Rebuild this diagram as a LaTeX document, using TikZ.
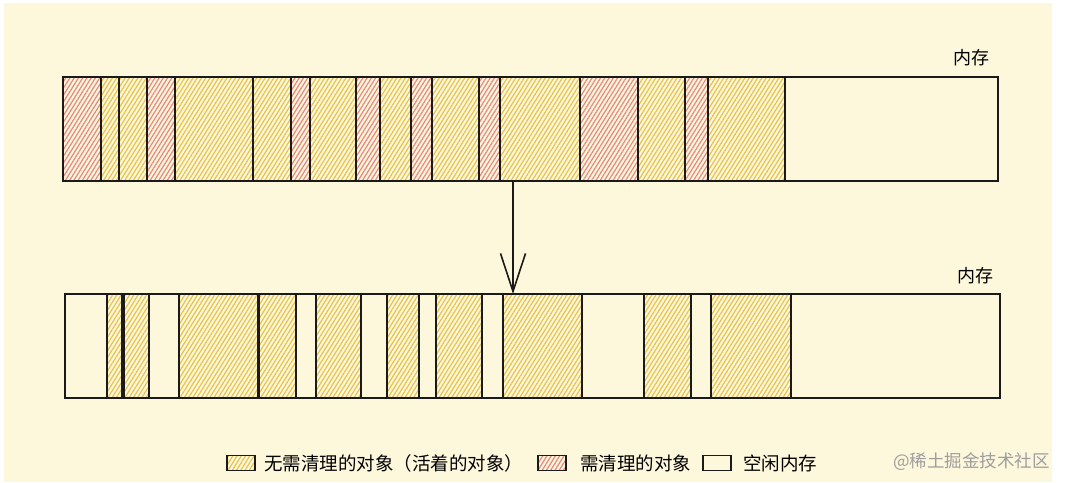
\documentclass[tikz,border=0pt]{standalone}
\usepackage{fontspec}
\setmainfont{Noto Sans CJK SC}
\usetikzlibrary{patterns.meta, arrows.meta, positioning}
\definecolor{paper}{HTML}{FDF7DC}
\definecolor{hatchyellow}{HTML}{E8C44E}
\definecolor{hatchred}{HTML}{E68A82}
\definecolor{inkline}{HTML}{1A1A1A}
\definecolor{markgray}{HTML}{9E9E9E}

\begin{document}
\begin{tikzpicture}[x=1pt, y=-1pt, line join=miter,
	every node/.style={outer sep=0pt, inner sep=0pt, anchor=north west},
	memcell/.style={draw=inkline, minimum height=104pt},
	liveobj/.style={memcell, line width=2.8pt, pattern={Lines[angle=58, distance=3.6pt, line width=1.25pt]}, pattern color=hatchyellow},
	deadobj/.style={memcell, line width=2.8pt, pattern={Lines[angle=58, distance=3.6pt, line width=1.25pt]}, pattern color=hatchred},
	freemem/.style={memcell, line width=1.5pt},
	swatch/.style={minimum width=28pt, minimum height=15pt, line width=1.8pt, anchor=west},
	memlabel/.style={font=\fontsize{18}{20}\selectfont, anchor=center},
	legendtext/.style={font=\fontsize{18.5}{20}\selectfont, anchor=west}]
	
	\useasboundingbox (0,0) rectangle (1067,482);
	\fill[white] (0,0) rectangle (1067,482);
	\fill[paper] (4,3) rectangle (1052,482);
	
	% 回收前
	\node[memlabel] (toplabel) at (971,58) {内存};
	\node[freemem, minimum width=213pt] (t19) at (785,77) {};
	\node[deadobj, minimum width=38pt] (t1) at (63,77) {};
	\node[liveobj, minimum width=18pt] (t2) at (101,77) {};
	\node[liveobj, minimum width=28pt] (t3) at (119,77) {};
	\node[deadobj, minimum width=28pt] (t4) at (147,77) {};
	\node[liveobj, minimum width=78pt] (t5) at (175,77) {};
	\node[liveobj, minimum width=38pt] (t6) at (253,77) {};
	\node[deadobj, minimum width=19pt] (t7) at (291,77) {};
	\node[liveobj, minimum width=46pt] (t8) at (310,77) {};
	\node[deadobj, minimum width=24pt] (t9) at (356,77) {};
	\node[liveobj, minimum width=31pt] (t10) at (380,77) {};
	\node[deadobj, minimum width=21pt] (t11) at (411,77) {};
	\node[liveobj, minimum width=47pt] (t12) at (432,77) {};
	\node[deadobj, minimum width=21pt] (t13) at (479,77) {};
	\node[liveobj, minimum width=80pt] (t14) at (500,77) {};
	\node[deadobj, minimum width=58pt] (t15) at (580,77) {};
	\node[liveobj, minimum width=47pt] (t16) at (638,77) {};
	\node[deadobj, minimum width=23pt] (t17) at (685,77) {};
	\node[liveobj, minimum width=77pt] (t18) at (708,77) {};
	
	% 回收后
	\node[memlabel] (bottomlabel) at (975,276) {内存};
	\node[freemem, minimum width=935pt] (b0) at (65,294) {};
	\node[liveobj, minimum width=15pt] (b1) at (107,294) {};
	\node[liveobj, minimum width=25pt] (b2) at (124,294) {};
	\node[liveobj, minimum width=79pt] (b3) at (179,294) {};
	\node[liveobj, minimum width=37pt] (b4) at (259,294) {};
	\node[liveobj, minimum width=45pt] (b5) at (316,294) {};
	\node[liveobj, minimum width=32pt] (b6) at (387,294) {};
	\node[liveobj, minimum width=46pt] (b7) at (436,294) {};
	\node[liveobj, minimum width=79pt] (b8) at (503,294) {};
	\node[liveobj, minimum width=47pt] (b9) at (644,294) {};
	\node[liveobj, minimum width=80pt] (b10) at (711,294) {};
	
	\draw[-{Straight Barb[length=38pt, width=25pt]}, line width=1.6pt, draw=inkline] ([xshift=13pt]t14.south west) -- ([xshift=10pt]b8.north west);
	
	% 图例
	\node[liveobj, swatch] (keylive) at (227,463) {};
	\node[legendtext, right=9pt of keylive] (keylivetext) {无需清理的对象（活着的对象）};
	\node[deadobj, swatch] (keydead) at (538,463) {};
	\node[legendtext, right=14pt of keydead] (keydeadtext) {需清理的对象};
	\node[freemem, swatch] (keyfree) at (703,463) {};
	\node[legendtext, right=12pt of keyfree] (keyfreetext) {空闲内存};
	\node[legendtext, text=markgray, font=\fontsize{17.5}{20}\selectfont] (watermark) at (893,462) {@稀土掘金技术社区};
	
\end{tikzpicture}
\end{document}
